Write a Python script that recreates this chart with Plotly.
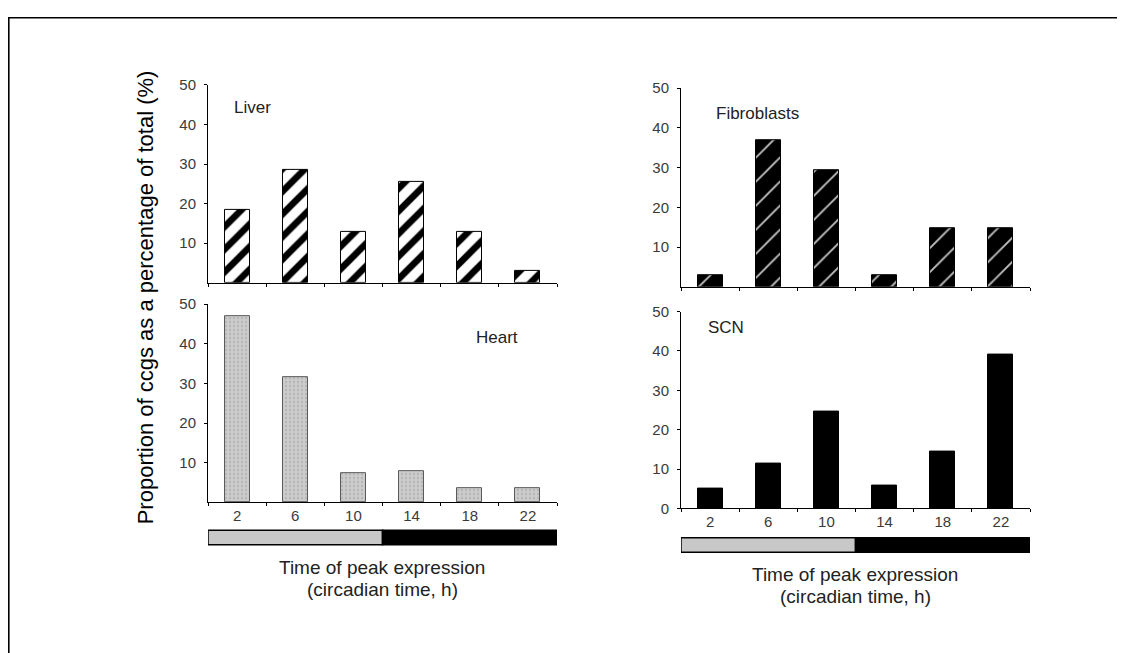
import plotly.graph_objects as go

# Page geometry: the figure sits 8px in from the left of the page; vertically the
# captured page maps figure pixels as  shown_y = 17.4 + 0.97 * fig_y  (measured),
# so reference pixel positions are converted with that relation.
OFF_X = 8
Y0, SY = 17.4, 0.97
W, H = 1109, 660

# ---- data ----
circadian_time = ["2", "6", "10", "14", "18", "22"]
liver = [18.5, 28.4, 12.8, 25.5, 12.8, 3.0]
fibroblasts = [2.8, 36.9, 29.4, 2.8, 14.8, 14.8]
heart = [47.0, 31.6, 7.3, 8.0, 3.5, 3.5]
scn = [5.0, 11.5, 24.5, 5.7, 14.4, 39.1]

panel_names = ["Liver", "Fibroblasts", "Heart", "SCN"]
y_title = "Proportion of ccgs as a percentage of total (%)"
x_title_1 = "Time of peak expression"
x_title_2 = "(circadian time, h)"

FONT = "Liberation Sans, Arial, sans-serif"


def px_x(p):
    return (p - OFF_X) / W


def px_y(p):
    return 1 - ((p - Y0) / SY) / H


fig = go.Figure()

bar_w = 0.43
fig.add_trace(go.Bar(
    x=circadian_time, y=liver, width=bar_w, xaxis="x", yaxis="y",
    marker=dict(color="white", line=dict(color="black", width=1),
                pattern=dict(shape="/", size=16, solidity=0.42, fillmode="replace",
                             fgcolor="black", bgcolor="white", fgopacity=1)),
    showlegend=False))
fig.add_trace(go.Bar(
    x=circadian_time, y=fibroblasts, width=bar_w, xaxis="x2", yaxis="y2",
    marker=dict(color="black", line=dict(color="black", width=1),
                pattern=dict(shape="/", size=17, solidity=0.11, fillmode="replace",
                             fgcolor="#bdbdbd", bgcolor="black", fgopacity=1)),
    showlegend=False))
fig.add_trace(go.Bar(
    x=circadian_time, y=heart, width=bar_w, xaxis="x3", yaxis="y3",
    marker=dict(color="#c9c9c9", line=dict(color="#5a5a5a", width=1),
                pattern=dict(shape=".", size=4, solidity=0.25, fillmode="replace",
                             fgcolor="#b4b4b4", bgcolor="#cccccc", fgopacity=1)),
    showlegend=False))
fig.add_trace(go.Bar(
    x=circadian_time, y=scn, width=bar_w, xaxis="x4", yaxis="y4",
    marker=dict(color="black", line=dict(color="black", width=1)),
    showlegend=False))

# panel geometry in reference pixels: (x_left, x_right, y_zero, y_fifty)
geo = {
    1: (208, 557, 282.0, 85.0),
    2: (681, 1030, 286.0, 88.3),
    3: (208, 557, 500.7, 303.3),
    4: (681, 1030, 506.7, 310.7),
}

tickfont = dict(family=FONT, size=15, color="#3a3a3a")
for i, (xl, xr, y0, y50) in geo.items():
    sx = "" if i == 1 else str(i)
    show_lbl = i in (3, 4)
    fig.layout["xaxis" + sx] = dict(
        domain=[px_x(xl), px_x(xr)], anchor="y" + sx,
        type="category", range=[-0.5, 5.5],
        showline=True, linecolor="black", linewidth=1,
        ticks="outside", ticklen=3, tickcolor="black", tickson="boundaries",
        showticklabels=show_lbl, tickfont=tickfont,
        showgrid=False, zeroline=False, fixedrange=True)
    tv = [0, 10, 20, 30, 40, 50] if i == 4 else [10, 20, 30, 40, 50]
    fig.layout["yaxis" + sx] = dict(
        domain=[px_y(y0), px_y(y50)], anchor="x" + sx,
        range=[0, 50], tickvals=tv, ticktext=[str(v) for v in tv],
        showline=True, linecolor="black", linewidth=1,
        ticks="outside", ticklen=3, tickcolor="black",
        tickfont=tickfont, ticklabelstandoff=5,
        showgrid=False, zeroline=False, fixedrange=True)

shapes = []
# outer frame (left and top edges)
shapes.append(dict(type="line", xref="paper", yref="paper",
                   x0=0.8 / W, x1=0.8 / W, y0=0, y1=1,
                   line=dict(color="black", width=1.6)))
shapes.append(dict(type="line", xref="paper", yref="paper",
                   x0=0, x1=1, y0=1 - 0.8 / H, y1=1 - 0.8 / H,
                   line=dict(color="black", width=1.6)))

# light / dark bars under the lower panels
for xr, (ytop, ybot) in (("x3", (528.5, 542.8)), ("x4", (536.0, 550.4))):
    shapes.append(dict(type="rect", xref=xr, yref="paper",
                       x0=-0.5, x1=2.5, y0=px_y(ybot), y1=px_y(ytop),
                       fillcolor="#c8c8c8", line=dict(color="black", width=1.5)))
    shapes.append(dict(type="rect", xref=xr, yref="paper",
                       x0=2.5, x1=5.5, y0=px_y(ybot), y1=px_y(ytop),
                       fillcolor="black", line=dict(color="black", width=1.5)))

ann = []
lblfont = dict(family=FONT, size=17, color="#222222")
for name, lx, ly in ((panel_names[0], 232, 108), (panel_names[1], 714, 113),
                     (panel_names[2], 474, 337), (panel_names[3], 706, 327)):
    ann.append(dict(text=name, x=px_x(lx), y=px_y(ly), xanchor="left",
                    yanchor="middle", xref="paper", yref="paper",
                    showarrow=False, font=lblfont))

capfont = dict(family=FONT, size=19, color="#222222")
for cx, y1, y2 in ((382, 565.5, 587.5), (855, 572.5, 594.5)):
    ann.append(dict(text=x_title_1, x=px_x(cx), y=px_y(y1), xanchor="center",
                    yanchor="middle", xref="paper", yref="paper", showarrow=False, font=capfont))
    ann.append(dict(text=x_title_2, x=px_x(cx), y=px_y(y2), xanchor="center",
                    yanchor="middle", xref="paper", yref="paper", showarrow=False, font=capfont))

ann.append(dict(text=y_title, x=px_x(145), y=px_y(296.5), xanchor="center",
                yanchor="middle", xref="paper", yref="paper", showarrow=False,
                textangle=-90, font=dict(family=FONT, size=22, color="black")))

fig.update_layout(
    width=W, height=H, margin=dict(l=0, r=0, t=0, b=0),
    paper_bgcolor="white", plot_bgcolor="white",
    bargap=0, shapes=shapes, annotations=ann,
)

fig.write_html("out.html", config={"displayModeBar": False})
